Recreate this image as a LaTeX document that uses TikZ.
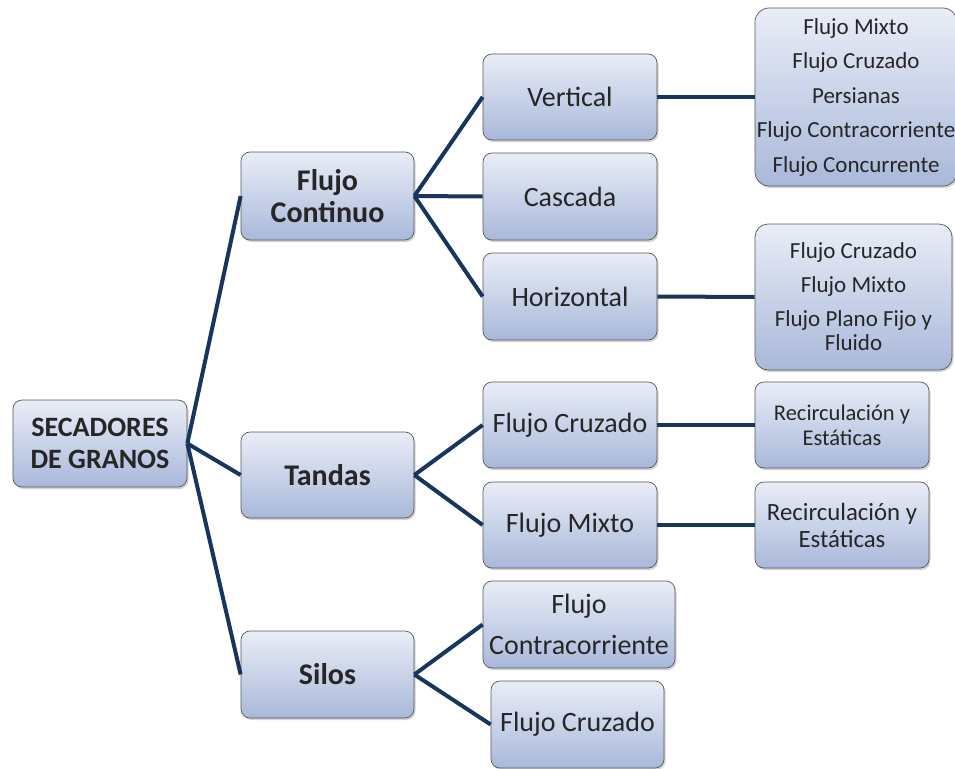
\documentclass[tikz,border=0pt]{standalone}
\usepackage{fontspec}
\setmainfont{Carlito}
\usetikzlibrary{shadows}
\definecolor{linec}{HTML}{17365D}
\definecolor{topc}{HTML}{E9EDF7}
\definecolor{botc}{HTML}{A9B8DA}
\definecolor{txtc}{HTML}{262626}
\tikzset{
  box/.style={rectangle, rounded corners=9pt, draw=black!65, line width=0.7pt,
    top color=topc, bottom color=botc, align=center, inner sep=0pt,
    text=txtc, drop shadow={shadow xshift=1.5pt, shadow yshift=-2pt, opacity=0.35}},
  lvlone/.style={box, font=\fontsize{30}{32}\selectfont\bfseries},
  lvltwo/.style={box, font=\fontsize{28}{33}\selectfont},
  conn/.style={draw=linec, line width=4pt}
}
\begin{document}
\begin{tikzpicture}[x=1pt,y=-1pt]
\useasboundingbox (0,0) rectangle (955,768);
% level 0
\node[box, font=\fontsize{28}{32}\selectfont\bfseries, minimum width=174pt, minimum height=87pt] (root) at (100,443.5) {SECADORES\\ DE GRANOS};
% level 1
\node[lvlone, minimum width=173pt, minimum height=88pt] (fc) at (327.5,196) {Flujo\\ Continuo};
\node[lvlone, minimum width=173pt, minimum height=86pt] (ta) at (327.5,475) {Tandas};
\node[lvlone, minimum width=173pt, minimum height=87pt] (si) at (327.5,674.5) {Silos};
% level 2
\node[lvltwo, minimum width=174pt, minimum height=86pt] (ve) at (570,97) {Vertical};
\node[lvltwo, minimum width=174pt, minimum height=87pt] (ca) at (570,196.5) {Cascada};
\node[lvltwo, minimum width=174pt, minimum height=87pt] (ho) at (570,296.5) {Horizontal};
\node[lvltwo, minimum width=174pt, minimum height=86pt] (tc) at (570,425) {Flujo Cruzado};
\node[lvltwo, minimum width=174pt, minimum height=86pt] (tm) at (570,525) {Flujo Mixto};
\node[lvltwo, font=\fontsize{28}{41}\selectfont, minimum width=192pt, minimum height=87pt] (sc) at (579,624.5) {Flujo\\ Contracorriente};
\node[lvltwo, minimum width=173pt, minimum height=87pt] (sx) at (577.5,724.5) {Flujo Cruzado};
% level 3
\node[box, rounded corners=14pt, font=\fontsize{23}{34.5}\selectfont, minimum width=202pt, minimum height=178pt] (vl) at (856,97) {Flujo Mixto\\ Flujo Cruzado\\ Persianas\\ Flujo Contracorriente\\ Flujo Concurrente};
\node[box, rounded corners=13pt, font=\fontsize{23}{24}\selectfont, minimum width=197pt, minimum height=146pt] (hl) at (853.5,297) {Flujo Cruzado\\[10pt] Flujo Mixto\\[10pt] Flujo Plano Fijo y\\ Fluido};
\node[box, font=\fontsize{22.5}{25}\selectfont, minimum width=174pt, minimum height=86pt] (r1) at (842,425) {Recirculación y\\ Estáticas};
\node[box, font=\fontsize{24.8}{27}\selectfont, minimum width=174pt, minimum height=86pt] (r2) at (842,525) {Recirculación y\\ Estáticas};
% connectors
\draw[conn] (root.east) -- (fc.west);
\draw[conn] (root.east) -- (ta.west);
\draw[conn] (root.east) -- (si.west);
\draw[conn] (fc.east) -- (ve.west);
\draw[conn] (fc.east) -- (ca.west);
\draw[conn] (fc.east) -- (ho.west);
\draw[conn] (ta.east) -- (tc.west);
\draw[conn] (ta.east) -- (tm.west);
\draw[conn] (si.east) -- (sc.west);
\draw[conn] (si.east) -- (sx.west);
\draw[conn] (ve.east) -- (vl.west);
\draw[conn] (ho.east) -- (hl.west);
\draw[conn] (tc.east) -- (r1.west);
\draw[conn] (tm.east) -- (r2.west);
\end{tikzpicture}
\end{document}
